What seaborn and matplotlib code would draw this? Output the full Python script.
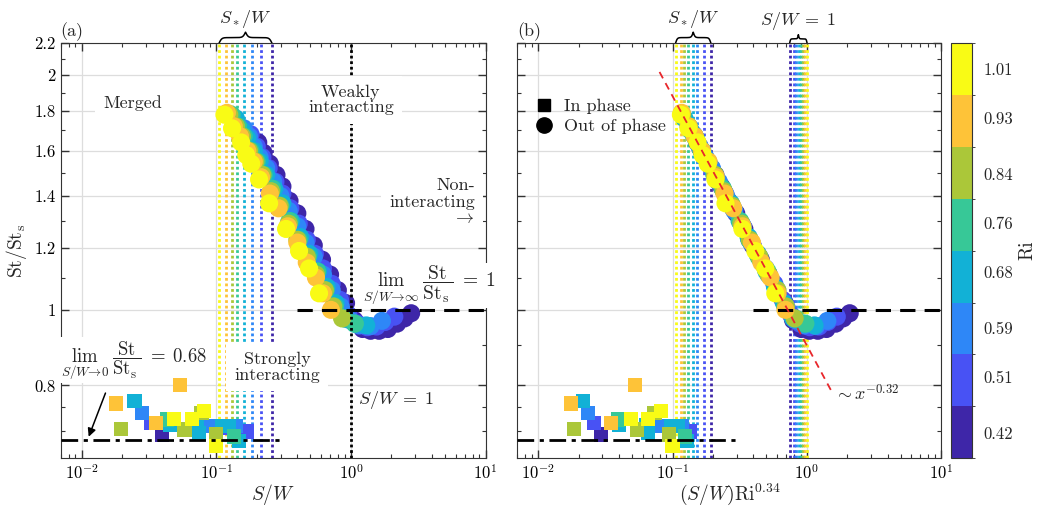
import numpy as np
import pandas as pd
import matplotlib
matplotlib.use("Agg")
import matplotlib.pyplot as plt
import seaborn as sns
from matplotlib.colors import ListedColormap, BoundaryNorm
from matplotlib.cm import ScalarMappable
from matplotlib.lines import Line2D
from matplotlib.transforms import blended_transform_factory
from matplotlib.ticker import FixedLocator, NullFormatter, LogLocator

# Richardson numbers and their colours (discrete parula)
ri_levels = [0.42, 0.51, 0.59, 0.68, 0.76, 0.84, 0.93, 1.01]
ri_colors = ["#3e26a8", "#4852f4", "#2e87f7", "#12b1d6", "#37c897", "#abc739", "#fec338", "#f9fb15"]

# critical spacing S*/W for each Ri (dotted lines)
s_star = [0.259, 0.214, 0.183, 0.161, 0.143, 0.130, 0.118, 0.105]

# out of phase shedding (circles): S/W and St/St_s per Ri
sw_042 = [0.205, 0.225, 0.25, 0.28, 0.31, 0.35, 0.40, 0.46, 0.53, 0.61, 0.70, 0.80, 0.92, 1.06, 1.22, 1.40, 1.62, 1.88, 2.20, 2.50, 2.80]
st_042 = [1.64, 1.59, 1.54, 1.49, 1.44, 1.38, 1.33, 1.27, 1.21, 1.16, 1.11, 1.06, 1.02, 0.97, 0.945, 0.94, 0.94, 0.945, 0.96, 0.975, 0.99]
sw_051 = [0.18, 0.20, 0.22, 0.245, 0.275, 0.31, 0.355, 0.41, 0.47, 0.54, 0.62, 0.72, 0.83, 0.96, 1.12, 1.32, 1.55, 1.80, 2.10]
st_051 = [1.68, 1.62, 1.57, 1.52, 1.46, 1.41, 1.35, 1.29, 1.23, 1.18, 1.13, 1.08, 1.03, 0.985, 0.96, 0.95, 0.952, 0.965, 0.98]
sw_059 = [0.16, 0.175, 0.19, 0.21, 0.235, 0.265, 0.30, 0.345, 0.40, 0.46, 0.53, 0.62, 0.72, 0.84, 0.98, 1.15, 1.40, 1.70]
st_059 = [1.71, 1.67, 1.62, 1.57, 1.52, 1.46, 1.40, 1.34, 1.28, 1.22, 1.17, 1.11, 1.06, 1.01, 0.97, 0.955, 0.953, 0.968]
sw_068 = [0.14, 0.155, 0.17, 0.19, 0.21, 0.235, 0.27, 0.31, 0.36, 0.42, 0.49, 0.57, 0.66, 0.77, 0.90, 1.07, 1.30]
st_068 = [1.76, 1.70, 1.66, 1.60, 1.55, 1.49, 1.43, 1.37, 1.30, 1.24, 1.18, 1.12, 1.07, 1.02, 0.975, 0.96, 0.955]
sw_076 = [0.13, 0.145, 0.16, 0.18, 0.20, 0.225, 0.26, 0.30, 0.35, 0.41, 0.48, 0.56, 0.65, 0.76, 0.90, 1.07]
st_076 = [1.78, 1.72, 1.67, 1.60, 1.55, 1.49, 1.43, 1.36, 1.30, 1.23, 1.17, 1.12, 1.06, 1.01, 0.975, 0.96]
sw_084 = [0.125, 0.14, 0.155, 0.175, 0.195, 0.22, 0.255, 0.295, 0.345, 0.40, 0.47, 0.55, 0.64, 0.74, 0.86]
st_084 = [1.78, 1.72, 1.67, 1.60, 1.55, 1.49, 1.42, 1.36, 1.29, 1.23, 1.17, 1.11, 1.06, 1.01, 0.975]
sw_093 = [0.12, 0.135, 0.15, 0.17, 0.19, 0.215, 0.25, 0.29, 0.34, 0.40, 0.47, 0.55, 0.62, 0.71]
st_093 = [1.79, 1.72, 1.67, 1.60, 1.55, 1.48, 1.41, 1.35, 1.28, 1.22, 1.15, 1.10, 1.05, 1.00]
sw_101 = [0.115, 0.131, 0.153, 0.167, 0.182, 0.208, 0.247, 0.330, 0.412, 0.489, 0.580]
st_101 = [1.78, 1.71, 1.64, 1.58, 1.54, 1.47, 1.37, 1.27, 1.19, 1.13, 1.05]

# in phase shedding (squares)
sq_sw = [0.0181, 0.0197, 0.0247, 0.0282, 0.0328, 0.0357, 0.0393, 0.0432, 0.0455, 0.0488, 0.054, 0.058, 0.0657, 0.0723,
         0.0778, 0.0815, 0.0748, 0.0914, 0.0995, 0.0995, 0.111, 0.125, 0.136, 0.147, 0.168, 0.140, 0.118, 0.085]
sq_st = [0.758, 0.703, 0.763, 0.737, 0.716, 0.715, 0.692, 0.723, 0.712, 0.724, 0.801, 0.702, 0.724, 0.712,
         0.737, 0.741, 0.695, 0.709, 0.692, 0.668, 0.709, 0.709, 0.688, 0.678, 0.698, 0.709, 0.705, 0.710]
sq_ri = [0.93, 0.84, 0.68, 0.59, 0.51, 0.93, 0.42, 0.76, 0.68, 1.01, 0.93, 0.84, 1.01, 0.68,
         0.84, 1.01, 0.68, 0.59, 0.84, 1.01, 0.68, 0.68, 0.76, 0.68, 0.51, 0.59, 0.51, 0.42]

# power law fit in panel (b)
fit_coef, fit_exp = 0.9, -0.32
fit_x = [0.08, 1.55]
ri_exp = 0.34

yticks = [0.8, 1, 1.2, 1.4, 1.6, 1.8, 2, 2.2]
ytick_labels = ["0.8", "1", "1.2", "1.4", "1.6", "1.8", "2", "2.2"]
yminor = [0.7, 0.75, 0.9, 1.1, 1.3, 1.5, 1.7, 1.9, 2.1]

sns.set_style("ticks")
plt.rcParams["font.family"] = ["cmr10", "DejaVu Serif"]
plt.rcParams["mathtext.fontset"] = "cm"
plt.rcParams["axes.formatter.use_mathtext"] = True
plt.rcParams["axes.edgecolor"] = "#333333"

sw_all = [sw_042, sw_051, sw_059, sw_068, sw_076, sw_084, sw_093, sw_101]
st_all = [st_042, st_051, st_059, st_068, st_076, st_084, st_093, st_101]
df_out = pd.concat([pd.DataFrame({"sw": a, "st": b, "ri": r}) for a, b, r in zip(sw_all, st_all, ri_levels)],
                   ignore_index=True)
df_out["xb"] = df_out["sw"] * df_out["ri"] ** ri_exp
df_in = pd.DataFrame({"sw": sq_sw, "st": sq_st, "ri": sq_ri}).sort_values("ri", kind="stable")
df_in["xb"] = df_in["sw"] * df_in["ri"] ** ri_exp
pal = dict(zip(ri_levels, ri_colors))

fig = plt.figure(figsize=(10.4, 5.12), dpi=100)
ax1 = fig.add_axes([0.0584, 0.105, 0.4085, 0.811])
ax2 = fig.add_axes([0.4975, 0.105, 0.4075, 0.811])
cax = fig.add_axes([0.914, 0.105, 0.021, 0.811])


def style_axes(ax):
    ax.set_xscale("log")
    ax.set_yscale("log")
    ax.set_xlim(0.007, 10)
    ax.set_ylim(0.645, 2.2)
    ax.yaxis.set_major_locator(FixedLocator(yticks))
    ax.yaxis.set_minor_locator(FixedLocator(yminor))
    ax.yaxis.set_minor_formatter(NullFormatter())
    ax.xaxis.set_major_locator(LogLocator(10, numticks=10))
    ax.xaxis.set_minor_locator(LogLocator(10, subs=np.arange(2, 10), numticks=30))
    ax.xaxis.set_minor_formatter(NullFormatter())
    ax.tick_params(which="both", direction="in", top=True, right=True, labelsize=12, colors="#333333",
                   labelcolor="k")
    ax.tick_params(which="major", length=6, width=1)
    ax.tick_params(which="minor", length=3, width=0.8)
    ax.grid(True, which="major", color="#dddddd", lw=0.9)
    ax.set_axisbelow(True)


def brace(ax, xa, xb, label, h=0.026):
    tr = blended_transform_factory(ax.transData, ax.transAxes)
    u = np.linspace(0, 0.5, 150)
    beta = 40
    half = 1 / (1 + np.exp(-beta * u)) + 1 / (1 + np.exp(-beta * (u - 0.5))) - 0.5
    yy = np.concatenate([half, half[::-1]])
    uu = np.concatenate([u, 1 - u[::-1]])
    la, lb = np.log10(xa), np.log10(xb)
    xx = 10 ** (la + uu * (lb - la))
    ax.plot(xx, 1 + yy * h, color="k", lw=1.1, transform=tr, clip_on=False)
    ax.text(10 ** ((la + lb) / 2), 1 + h + 0.006, label, transform=tr, ha="center", va="bottom", fontsize=13)


bbox_w = dict(boxstyle="square,pad=0.45", fc="white", ec="none")

for ax, xcol in [(ax1, "sw"), (ax2, "xb")]:
    style_axes(ax)
    # critical spacing lines
    for ri, c, s in zip(ri_levels, ri_colors, s_star):
        xs = s if xcol == "sw" else s * ri ** ri_exp
        ax.axvline(xs, color=c, lw=2, ls=(0, (1, 1)), zorder=1)
    sns.scatterplot(data=df_in, x=xcol, y="st", hue="ri", palette=pal, marker="s", s=105, linewidth=0,
                    legend=False, ax=ax, zorder=6)
    sns.scatterplot(data=df_out, x=xcol, y="st", hue="ri", palette=pal, marker="o", s=170, linewidth=0,
                    legend=False, ax=ax, zorder=6)
    ax.plot([0.40, 10], [1, 1], color="k", lw=2.2, ls=(0, (5, 3)), zorder=7)
    ax.plot([0.007, 0.30], [0.68, 0.68], color="k", lw=2, ls=(0, (6, 2, 1.5, 2)), zorder=7)
    ax.set_ylabel("")

# panel (a) decorations
ax1.axvline(1, color="k", lw=2, ls=(0, (1, 1)), zorder=7)
ax1.set_yticklabels(ytick_labels)
ax1.set_xlabel("$S/W$", fontsize=14, labelpad=0)
ax1.set_ylabel(r"$\mathrm{St}/\mathrm{St}_\mathrm{s}$", fontsize=14, labelpad=4)
ax1.text(0.0239, 1.84, "Merged", fontsize=13, ha="center", va="center", bbox=bbox_w, zorder=5)
ax1.text(1.0, 1.86, "Weakly\ninteracting", fontsize=13, ha="center", va="center", bbox=bbox_w, zorder=8,
         linespacing=1.05)
ax1.text(8.3, 1.375, "Non-\ninteracting\n" + r"$\rightarrow$", fontsize=13, ha="right", va="center",
         multialignment="right", bbox=bbox_w, zorder=5, linespacing=1.1)
ax1.text(0.284, 0.843, "Strongly\ninteracting", fontsize=13, ha="center", va="center", bbox=bbox_w,
         zorder=5, linespacing=1.05)
ax1.text(1.12, 0.767, r"$S/W\;=\;1$", fontsize=13, ha="left", va="center", zorder=8)
ax1.text(3.8, 1.075, r"$\lim_{S/W\to\infty}\;\dfrac{\mathrm{St}}{\mathrm{St}_\mathrm{s}}\;=\;1$", fontsize=14,
         ha="center", va="center", bbox=dict(boxstyle="square,pad=0.05", fc="white", ec="none"), zorder=5)
ax1.text(0.0245, 0.862, r"$\lim_{S/W\to 0}\;\dfrac{\mathrm{St}}{\mathrm{St}_\mathrm{s}}\;=\;0.68$", fontsize=13.5,
         ha="center", va="center", bbox=dict(boxstyle="square,pad=0.1", fc="white", ec="none"), zorder=5)
ax1.annotate("", xy=(0.0111, 0.682), xytext=(0.0153, 0.788),
             arrowprops=dict(arrowstyle="-|>", color="k", lw=1.1, mutation_scale=12), zorder=5)
ax1.text(0.0, 1.006, "(a)", transform=ax1.transAxes, fontsize=13, ha="left", va="bottom")
brace(ax1, s_star[-1], s_star[0], "$S_*/W$")

# panel (b) decorations
fx = np.array(fit_x)
ax2.plot(fx, fit_coef * fx ** fit_exp, color="#e8262b", lw=1.3, ls=(0, (4, 3)), zorder=8)
ax2.text(1.6, 0.781, r"$\sim x^{-0.32}$", fontsize=13, ha="left", va="center", zorder=5)
ax2.set_yticklabels([])
ax2.set_xlabel(r"$(S/W)\mathrm{Ri}^{0.34}$", fontsize=14, labelpad=0)
ax2.text(0.0, 1.006, "(b)", transform=ax2.transAxes, fontsize=13, ha="left", va="bottom")
brace(ax2, s_star[-1] * ri_levels[-1] ** ri_exp, s_star[0] * ri_levels[0] ** ri_exp, "$S_*/W$")
brace(ax2, ri_levels[0] ** ri_exp, ri_levels[-1] ** ri_exp, r"$S/W\;=\;1$", h=0.02)
for ri, c in zip(ri_levels, ri_colors):
    ax2.axvline(ri ** ri_exp, color=c, lw=2, ls=(0, (1, 1)), zorder=1)
handles = [Line2D([], [], marker="s", color="k", ls="", ms=8),
           Line2D([], [], marker="o", color="k", ls="", ms=11)]
ax2.legend(handles, ["In phase", "Out of phase"], loc="upper left", bbox_to_anchor=(0.0, 0.905),
           frameon=False, fontsize=13, handletextpad=0.5, labelspacing=0.25, handlelength=1.2)

# colour bar
bounds = np.linspace(0.378, 1.052, 9)
cmap = ListedColormap(ri_colors)
norm = BoundaryNorm(bounds, cmap.N)
cb = fig.colorbar(ScalarMappable(norm=norm, cmap=cmap), cax=cax, ticks=ri_levels)
cb.ax.set_yticklabels([f"{v:.2f}" for v in ri_levels])
cb.ax.tick_params(length=0, labelsize=12, pad=8)
cb.set_label("Ri", fontsize=14, labelpad=4)
cb.outline.set_edgecolor("#333333")

fig.savefig("out.png", dpi=100)
